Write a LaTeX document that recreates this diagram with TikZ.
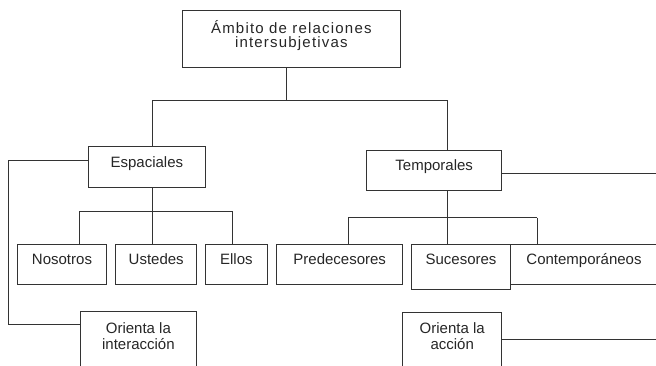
\documentclass[tikz,border=0pt]{standalone}
\usepackage{fontspec}
\setmainfont{Liberation Sans}
\usetikzlibrary{positioning}
\definecolor{linegray}{RGB}{51,51,51}

\begin{document}
\begin{tikzpicture}[
        x=1pt, y=-1pt,
        box/.style={draw=linegray, line width=0.9pt, inner sep=0pt, text=black!85, font=\fontsize{15}{16}\selectfont, minimum height=40.5pt, text height=11pt, text depth=11pt},
        link/.style={draw=linegray, line width=0.9pt}
    ]
    \useasboundingbox (0,0) rectangle (656,365);
    \clip (0,0) rectangle (656,365);

    % boxes
    \node[box, align=center, minimum width=217.3pt, minimum height=56.6pt, text height=28.4pt, text depth=11pt,
        font=\fontsize{15}{14.5}\selectfont\addfontfeature{LetterSpace=8}] (top) at (291.35,39) {Ámbito de relaciones\\intersubjetivas};
    \node[box, minimum width=117.7pt] (esp) at (146.85,167.15) {Espaciales};
    \node[box, minimum width=135pt] (tem) at (434.2,170.35) {Temporales};
    \node[box, minimum width=89.4pt] (nos) at (62,264.65) {Nosotros};
    \node[box, minimum width=81pt] (ust) at (156.2,264.65) {Ustedes};
    \node[box, minimum width=62.7pt] (ell) at (236.35,264.65) {Ellos};
    \node[box, minimum width=126pt] (pre) at (339.7,264.65) {Predecesores};
    \node[box, minimum width=148pt, minimum height=40pt, text depth=10.5pt] (con) at (584,264) {Contemporáneos};
    \node[box, minimum width=98.6pt, minimum height=45.3pt, text depth=15.7pt] (suc) at (461,266.65) {Sucesores};
    \node[box, align=center, minimum width=116.7pt, minimum height=70pt, text height=16.2pt] (oin) at (138.35,346.7) {Orienta la\\interacción};
    \node[box, align=center, minimum width=99pt, minimum height=70pt, text height=16.2pt] (oac) at (452.2,347.3) {Orienta la\\acción};

    % bus points
    \coordinate (b0) at (286,100);
    \coordinate (b1) at (152,100);
    \coordinate (b2) at (447,100);
    \coordinate (e1) at (79.3,211);
    \coordinate (e2) at (152,211);
    \coordinate (e3) at (232.3,211);
    \coordinate (t1) at (348.3,217.7);
    \coordinate (t2) at (447,217.7);
    \coordinate (t3) at (537.3,217.7);
    \coordinate (espL) at (8.3,160);
    \coordinate (oinL) at (8.3,324.3);
    \coordinate (temR) at (660,173.3);
    \coordinate (oacR) at (660,339);

    % connectors
    \draw[link] (top.south -| b0) -- (b0);
    \draw[link] (b1) -- (b2);
    \draw[link] (b1) -- (esp.north -| b1);
    \draw[link] (b2) -- (tem.north -| b2);

    \draw[link] (esp.south -| e2) -- (e2);
    \draw[link] (e1) -- (e3);
    \draw[link] (e1) -- (nos.north -| e1);
    \draw[link] (e2) -- (ust.north -| e2);
    \draw[link] (e3) -- (ell.north -| e3);

    \draw[link] (tem.south -| t2) -- (t2);
    \draw[link] (t1) -- (t3);
    \draw[link] (t1) -- (pre.north -| t1);
    \draw[link] (t2) -- (suc.north -| t2);
    \draw[link] (t3) -- (con.north -| t3);

    \draw[link] (esp.west |- espL) -- (espL) -- (oinL) -- (oin.west |- oinL);
    \draw[link] (tem.east |- temR) -- (temR);
    \draw[link] (oac.east |- oacR) -- (oacR);
\end{tikzpicture}
\end{document}
